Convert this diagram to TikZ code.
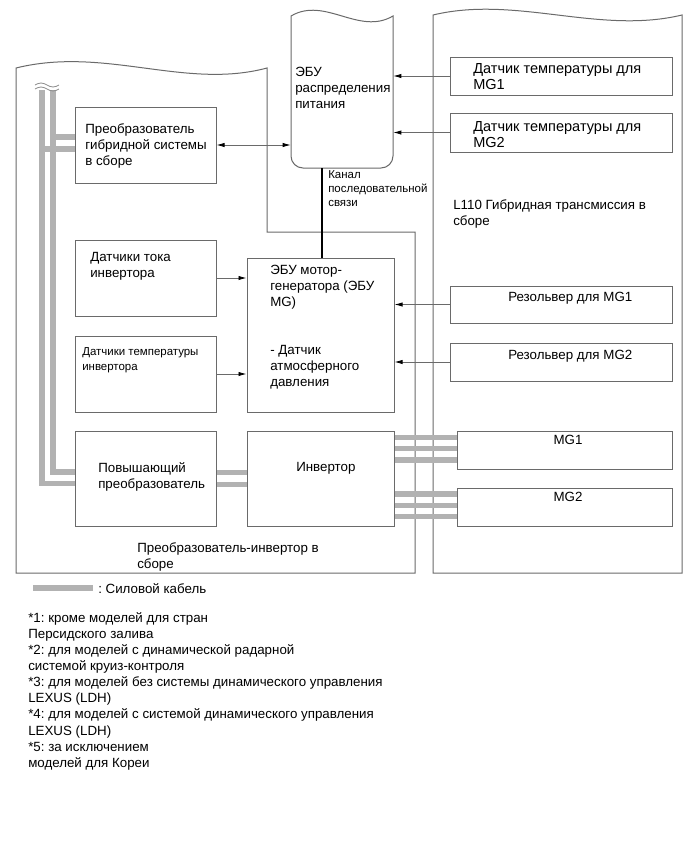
\documentclass[tikz,border=0pt]{standalone}
\usepackage{fontspec}
\setmainfont{Liberation Sans}
\usetikzlibrary{arrows.meta,fit,calc}
\definecolor{bord}{HTML}{6A6A6A}
\definecolor{cable}{HTML}{B2B2B2}
\frenchspacing
\begin{document}
\begin{tikzpicture}[x=0.75pt,y=-0.75pt,
  bordline/.style={draw=bord, line width=0.75pt},
  blk/.style={draw=bord, line width=0.75pt, inner sep=0pt, fit={#1}},
  txt/.style={anchor=north west, inner sep=0pt, align=left, font=\fontsize{10}{12}\selectfont},
  bigtxt/.style={txt, font=\fontsize{10.9}{12}\selectfont},
  smalltxt/.style={txt, font=\fontsize{8.6}{10.6}\selectfont},
  arr/.style={draw=bord, line width=0.6pt, -{Latex[length=6pt,width=3.2pt,color=black]}},
  arrboth/.style={draw=bord, line width=0.6pt, {Latex[length=6pt,width=3.2pt,color=black]}-{Latex[length=6pt,width=3.2pt,color=black]}},
  cab/.style={draw=cable, line width=3.8pt},
  bus/.style={draw=black, line width=2.2pt}]
\useasboundingbox (0,0) rectangle (690,854);
\fill[white] (0,0) rectangle (690,854);

% containers
\draw[bordline] (16,68) .. controls (105,46) and (185,90) .. (267,68) -- (267,232) -- (415,232) -- (415,573) -- (16,573) -- cycle;
\draw[bordline] (433,15) .. controls (516,-5) and (599,35) .. (682,15) -- (682,573) -- (433,573) -- cycle;

% ECU power distribution
\node[fit={(291,16) (393,168)}, inner sep=0pt] (ecu) {};
\draw[bordline] (291,100) [rounded corners=9pt] -- (291,168) -- (393,168) -- (393,100) [sharp corners] -- (393,16) .. controls (359,36) and (325,-4) .. (291,16) -- cycle;
\node[txt] (ecut) at (295,67) {ЭБУ\\распределения\\питания};

% boxes
\node[blk={(450,57) (672,95)}] (tmg1) {};
\node[blk={(450,113) (672,152)}] (tmg2) {};
\node[blk={(75,107) (216,183)}] (hyb) {};
\node[blk={(75,240) (216,316)}] (cur) {};
\node[blk={(75,336) (216,412)}] (tin) {};
\node[blk={(247,258) (394,412)}] (mgecu) {};
\node[blk={(450,286) (672,323)}] (rs1) {};
\node[blk={(450,343) (672,381)}] (rs2) {};
\node[blk={(75,431) (216,526)}] (boost) {};
\node[blk={(247,431) (394,526)}] (inv) {};
\node[blk={(457,431) (672,469)}] (mg1) {};
\node[blk={(457,488) (672,526)}] (mg2) {};

% texts
\node[bigtxt] (tmg1t) at (473,63.5) {Датчик температуры для\\MG1};
\node[bigtxt] (tmg2t) at (473,121.5) {Датчик температуры для\\MG2};
\node[txt] (hybt) at (85,123) {Преобразователь\\гибридной системы\\в сборе};
\node[smalltxt] (serial) at (328,170.5) {Канал\\последовательной\\связи};
\node[txt] (trans) at (453,199) {L110 Гибридная трансмиссия в\\сборе};
\node[txt] (curt) at (90,252) {Датчики тока\\инвертора};
\node[smalltxt, font=\fontsize{8.6}{11.2}\selectfont] (tint) at (82,347.5) {Датчики температуры\\инвертора};
\node[txt] (mgecut) at (270,265) {ЭБУ мотор-\\генератора (ЭБУ\\MG)};
\node[txt] (baro) at (270,345) {- Датчик\\атмосферного\\давления};
\node[txt] (rs1t) at (508,292) {Резольвер для MG1};
\node[txt] (rs2t) at (508,350) {Резольвер для MG2};
\node[txt] (boostt) at (98,462) {Повышающий\\преобразователь};
\node[txt] (invt) at (296,462) {Инвертор};
\node[txt] (asm) at (137,542) {Преобразователь-инвертор в\\сборе};
\node[txt, anchor=north] (mg1t) at (568,435) {MG1};
\node[txt, anchor=north] (mg2t) at (568,492) {MG2};

% signal connectors
\draw[arr] (tmg1.west) -- (tmg1.west -| ecu.east);
\draw[arr] (tmg2.west) -- (tmg2.west -| ecu.east);
\draw[arrboth] (hyb.east) -- (hyb.east -| ecu.west);
\draw[arr] (cur.east) -- (cur.east -| mgecu.west);
\draw[arr] (tin.east) -- (tin.east -| mgecu.west);
\draw[arr] (rs1.west) -- (rs1.west -| mgecu.east);
\draw[arr] (rs2.west) -- (rs2.west -| mgecu.east);
\coordinate (busx) at (322,0);
\draw[bus] (busx |- ecu.south) -- (busx |- mgecu.north);

% power cables
\coordinate (bo) at (42,90);
\coordinate (bi) at (53,90);
\draw[cab] (bi) -- (bi |- 0,472) -- (boost.west |- 0,472);
\draw[cab] (bo) -- (bo |- 0,483.5) -- (boost.west |- 0,483.5);
\draw[cab] (bi |- 0,137) -- (hyb.west |- 0,137);
\draw[cab] (bo |- 0,149) -- (hyb.west |- 0,149);
\draw[draw=cable!80!black, line width=0.6pt] (35,85) sin (41,83) cos (47,85) sin (53,87) cos (59,85);
\draw[draw=cable!80!black, line width=0.6pt] (35,89) sin (41,87) cos (47,89) sin (53,91) cos (59,89);
\foreach \yy in {472.5,484.5} \draw[cab] (boost.east |- 0,\yy) -- (inv.west |- 0,\yy);
\foreach \yy in {437.5,448.5,460} \draw[cab] (inv.east |- 0,\yy) -- (mg1.west |- 0,\yy);
\foreach \yy in {494,505.5,516.5} \draw[cab] (inv.east |- 0,\yy) -- (mg2.west |- 0,\yy);

% legend
\coordinate (lg1) at (33,588);
\coordinate (lg2) at (93,588);
\draw[cab] (lg1) -- (lg2);
\node[txt] (lgt) at (98,583) {: Силовой кабель};

% footnotes
\node[txt, font=\fontsize{10}{12.1}\selectfont] (notes) at (28,612) {*1: кроме моделей для стран\\Персидского залива\\*2: для моделей с динамической радарной\\системой круиз-контроля\\*3: для моделей без системы динамического управления\\LEXUS (LDH)\\*4: для моделей с системой динамического управления\\LEXUS (LDH)\\*5: за исключением\\моделей для Кореи};
\end{tikzpicture}
\end{document}
